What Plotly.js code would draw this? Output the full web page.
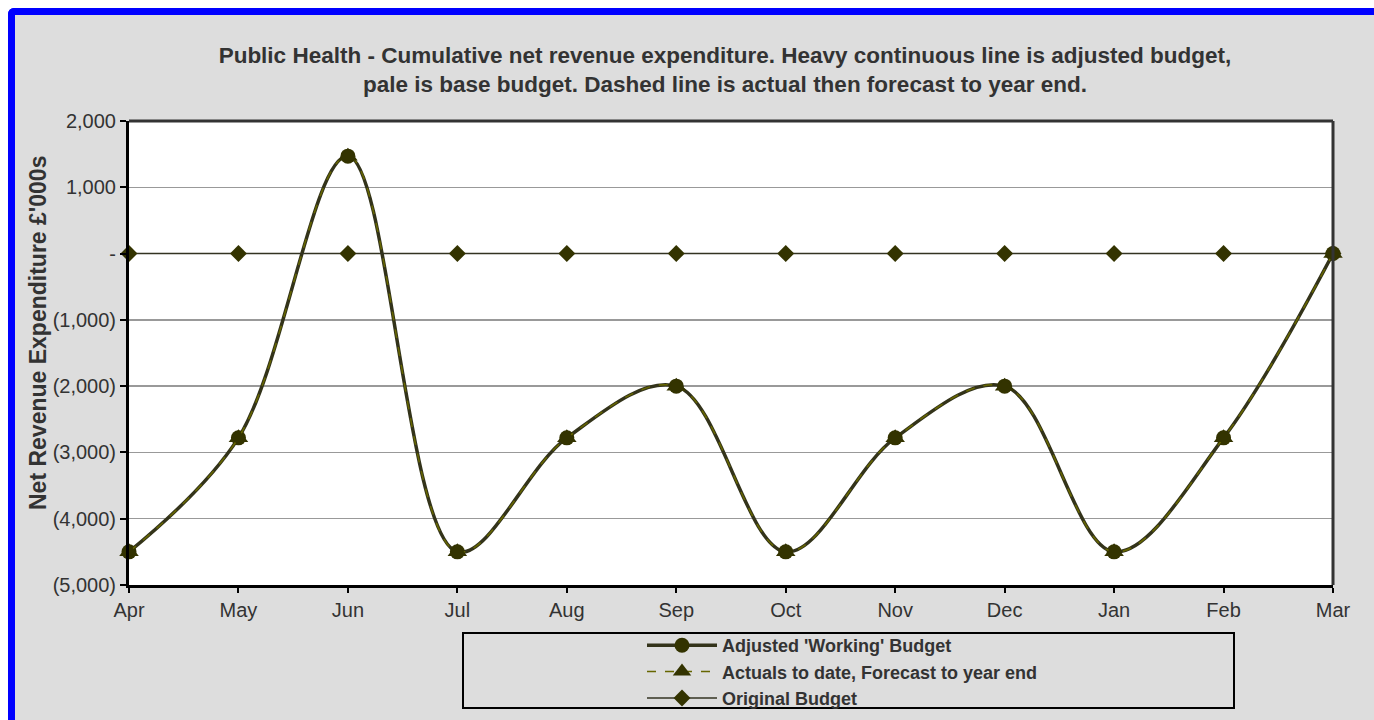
<!DOCTYPE html>
<html><head><meta charset="utf-8">
<script src="https://cdn.plot.ly/plotly-3.0.1.min.js"></script>
<style>
html,body{margin:0;padding:0;background:#fff;width:1374px;height:720px;overflow:hidden;}
#frame{position:absolute;left:8px;top:8px;width:1366px;height:712px;box-sizing:border-box;border:7px solid #0000ff;border-bottom:none;border-right:none;border-radius:6px 0 0 0;background:#dddddd;}
#chart{position:absolute;left:0;top:0;width:1374px;height:720px;}
</style></head>
<body>
<div id="frame"></div>
<div id="chart"></div>
<script>
const months = ["Apr","May","Jun","Jul","Aug","Sep","Oct","Nov","Dec","Jan","Feb","Mar"];
const adjustedBudget = [-4500,-2780,1470,-4500,-2780,-2000,-4500,-2780,-2000,-4500,-2780,0];
const actualsForecast = [-4500,-2780,1470,-4500,-2780,-2000,-4500,-2780,-2000,-4500,-2780,0];
const originalBudget = [0,0,0,0,0,0,0,0,0,0,0,0];
const yTickVals = [2000,1000,0,-1000,-2000,-3000,-4000,-5000];
const yTickText = ["2,000","1,000","-","(1,000)","(2,000)","(3,000)","(4,000)","(5,000)"];

const olive = "#333300";
const traces = [
  {x: months, y: adjustedBudget, name: "Adjusted 'Working' Budget", type: "scatter", mode: "lines+markers",
   line: {color: "#33331a", width: 3.5, shape: "spline", smoothing: 1}, marker: {symbol: "circle", size: 15, color: olive}, cliponaxis: false},
  {x: months, y: actualsForecast, name: "Actuals to date, Forecast to year end", type: "scatter", mode: "lines+markers",
   line: {color: "#666600", width: 1.5, dash: "dash", shape: "spline", smoothing: 1}, marker: {symbol: "triangle-up", size: 17, color: olive}, cliponaxis: false},
  {x: months, y: originalBudget, name: "Original Budget", type: "scatter", mode: "lines+markers",
   line: {color: "#333322", width: 1.5}, marker: {symbol: "diamond", size: 13, color: olive}, cliponaxis: false}
];

const layout = {
  width: 1374, height: 720,
  paper_bgcolor: "rgba(0,0,0,0)", plot_bgcolor: "#ffffff",
  margin: {l: 129, r: 41, t: 121, b: 135, autoexpand: false},
  font: {family: "Liberation Sans, Arial, sans-serif", color: "#333333", size: 20},
  title: {text: "<b>Public Health - Cumulative net revenue expenditure. Heavy continuous line is adjusted budget,<br>pale is base budget. Dashed line is actual then forecast to year end.</b>",
          font: {size: 22.5, color: "#333333"}, x: 0.495, xref: "paper", xanchor: "center", y: 1 - 63/720, yanchor: "middle"},
  xaxis: {type: "category", range: [0, 11], showgrid: false, zeroline: false,
          showline: true, linecolor: "#000000", linewidth: 3,
          ticks: "outside", ticklen: 5, tickwidth: 2, tickcolor: "#000", tickfont: {size: 20, color: "#333"}},
  yaxis: {range: [-5000, 2000], tickvals: yTickVals, ticktext: yTickText, showgrid: true, gridcolor: "#999999", gridwidth: 1.5,
          zeroline: false, showline: true, linecolor: "#000000", linewidth: 3,
          ticks: "outside", ticklen: 6, tickwidth: 2, tickcolor: "#000", tickfont: {size: 20, color: "#333"}},
  shapes: [
    {type: "line", xref: "paper", yref: "paper", x0: 0, x1: 1, y0: 1, y1: 1, line: {color: "#333333", width: 3}},
    {type: "line", xref: "paper", yref: "paper", x0: 1, x1: 1, y0: 0, y1: 1, line: {color: "#333333", width: 3}},
    {type: "rect", xref: "paper", yref: "paper", x0: (463-129)/1204, x1: (1234-129)/1204, y0: (585-708)/464, y1: (585-633)/464,
     line: {color: "#000000", width: 2}, fillcolor: "rgba(0,0,0,0)"}
  ],
  annotations: [
    {text: "<b>Net Revenue Expenditure £'000s</b>", textangle: -90, xref: "paper", yref: "paper", x: 0, xshift: -91,
     y: (585-333)/464, xanchor: "center", yanchor: "middle", showarrow: false, font: {size: 23, color: "#333"}}
  ],
  showlegend: true,
  legend: {x: (642-129)/1204, y: (585-627)/464, xanchor: "left", yanchor: "top", bgcolor: "rgba(0,0,0,0)",
           font: {size: 18, color: "#333", family: "Liberation Sans, Arial, sans-serif", weight: "bold"}, tracegroupgap: 0, itemwidth: 70}
};
Plotly.newPlot("chart", traces, layout, {displayModeBar: false, staticPlot: true});
</script>
</body></html>
